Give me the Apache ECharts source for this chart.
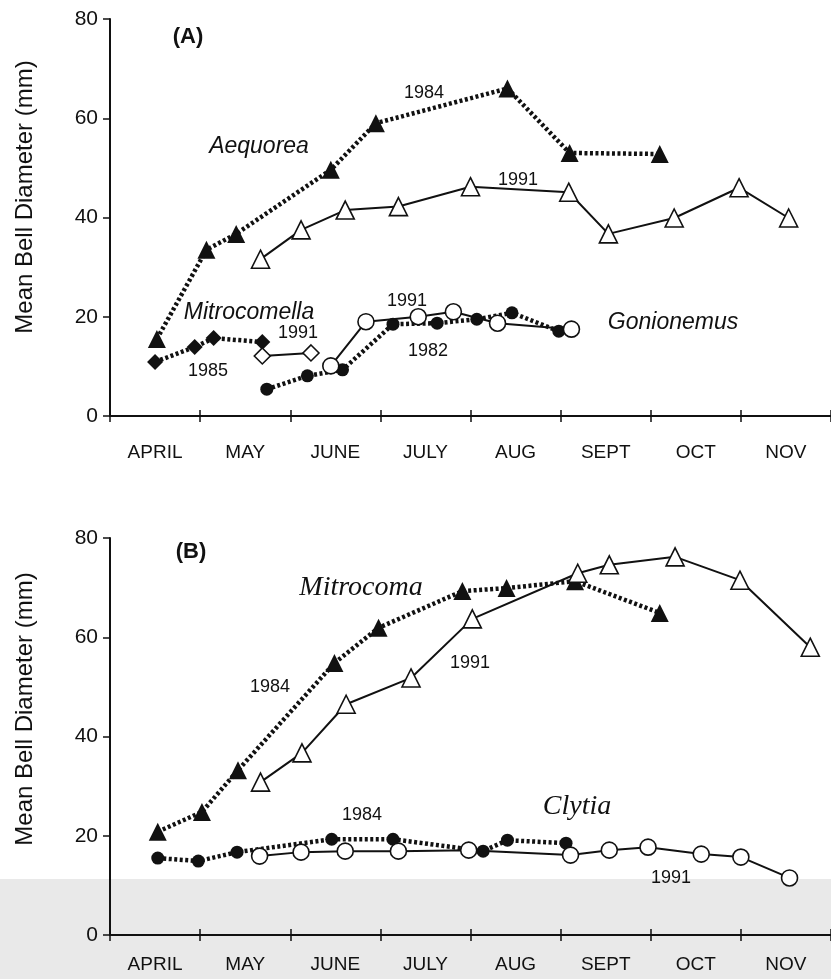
<!DOCTYPE html>
<html>
<head>
<meta charset="utf-8">
<script src="https://cdn.jsdelivr.net/npm/echarts@6/dist/echarts.min.js"></script>
<style>
  html, body { margin: 0; padding: 0; background: #fff; }
  #main { width: 831px; height: 979px; }
</style>
</head>
<body>
<div id="main"></div>
<script>
// months on the x axis (each label sits in the middle of its month)
var months = ['APRIL', 'MAY', 'JUNE', 'JULY', 'AUG', 'SEPT', 'OCT', 'NOV'];
var yTicks = [0, 20, 40, 60, 80];

// x values are in months counted from 1 April
// (A) Aequorea
var aequorea1984X = [0.52, 1.07, 1.40, 2.45, 2.95, 4.41, 5.10, 6.10];
var aequorea1984Y = [15.5, 33.5, 36.7, 49.6, 59.0, 66.0, 53.0, 52.8];
var aequorea1991X = [1.67, 2.12, 2.61, 3.20, 4.00, 5.09, 5.53, 6.26, 6.98, 7.53];
var aequorea1991Y = [31.6, 37.5, 41.5, 42.2, 46.2, 45.1, 36.7, 39.9, 46.0, 39.9];
// (A) Mitrocomella
var mitrocomella1985X = [0.50, 0.94, 1.15, 1.69];
var mitrocomella1985Y = [10.9, 13.9, 15.7, 14.9];
var mitrocomella1991X = [1.69, 2.23];
var mitrocomella1991Y = [12.1, 12.7];
// (A) Gonionemus
var gonionemus1982X = [1.74, 2.19, 2.58, 3.14, 3.63, 4.07, 4.46, 4.98];
var gonionemus1982Y = [5.4, 8.1, 9.3, 18.5, 18.7, 19.5, 20.8, 17.1];
var gonionemus1991X = [2.45, 2.84, 3.42, 3.81, 4.30, 5.12];
var gonionemus1991Y = [10.1, 19.0, 20.0, 21.0, 18.7, 17.5];

// (B) Mitrocoma
var mitrocoma1984X = [0.53, 1.02, 1.42, 2.49, 2.98, 3.91, 4.40, 5.16, 6.10];
var mitrocoma1984Y = [20.8, 24.8, 33.2, 54.8, 61.9, 69.3, 69.9, 71.3, 64.9];
var mitrocoma1991X = [1.67, 2.13, 2.62, 3.34, 4.02, 5.19, 5.54, 6.27, 6.99, 7.77];
var mitrocoma1991Y = [30.8, 36.7, 46.5, 51.8, 63.7, 72.9, 74.6, 76.2, 71.5, 58.0];
// (B) Clytia
var clytia1984X = [0.53, 0.98, 1.41, 2.46, 3.14, 4.14, 4.41, 5.06];
var clytia1984Y = [15.5, 14.9, 16.7, 19.3, 19.3, 16.9, 19.1, 18.5];
var clytia1991X = [1.66, 2.12, 2.61, 3.20, 3.98, 5.11, 5.54, 5.97, 6.56, 7.00, 7.54];
var clytia1991Y = [15.9, 16.7, 16.9, 16.9, 17.1, 16.1, 17.1, 17.7, 16.3, 15.7, 11.5];

var SANS = 'Liberation Sans, Arial, sans-serif';
var SERIF = 'Liberation Serif, Times New Roman, serif';

function pairs(xs, ys) {
	return xs.map(function(x, i) { return [x, ys[i]]; });
}

// dotted = filled markers, solid = open markers
function line(xs, ys, symbol, filled, panel) {
	var big = symbol === 'triangle' ? 18 : (symbol === 'diamond' ? 16 : (filled ? 13 : 16));
	return {
		type : 'line',
		xAxisIndex : panel * 2,
		yAxisIndex : panel,
		data : pairs(xs, ys),
		symbol : symbol,
		symbolSize : big,
		showAllSymbol : true,
		z : filled ? 3 : 4,
		lineStyle : filled
			? { color : '#111', width : 4.5, type : [3, 2.5] }
			: { color : '#111', width : 2 },
		itemStyle : filled
			? { color : '#111', borderWidth : 0 }
			: { color : '#fff', borderColor : '#111', borderWidth : 1.6 },
		emphasis : { disabled : true },
		animation : false
	};
}

function xAxes(panel, labelMargin) {
	return [ {
		type : 'value',
		gridIndex : panel,
		position : 'bottom',
		min : 0,
		max : 8,
		interval : 1,
		axisLine : { show : false },
		axisTick : { show : true, inside : true, length : 6, lineStyle : { color : '#111', width : 1.5 } },
		axisLabel : { show : false },
		splitLine : { show : false }
	}, {
		type : 'category',
		gridIndex : panel,
		position : 'bottom',
		data : months,
		boundaryGap : true,
		axisLine : { lineStyle : { color : '#111', width : 2 } },
		axisTick : { show : true, length : 6, lineStyle : { color : '#111', width : 1.5 } },
		axisLabel : { color : '#111', fontSize : 19, fontFamily : SANS, margin : labelMargin },
		splitLine : { show : false }
	} ];
}

function yAxis(panel) {
	return {
		type : 'value',
		gridIndex : panel,
		min : yTicks[0],
		max : yTicks[yTicks.length - 1],
		interval : 20,
		axisLine : { show : true, lineStyle : { color : '#111', width : 2 } },
		axisTick : { show : true, length : 7, lineStyle : { color : '#111', width : 1.5 } },
		axisLabel : { color : '#111', fontSize : 21, fontFamily : SANS, margin : 12 },
		splitLine : { show : false }
	};
}

function txt(x, y, text, size, opts) {
	opts = opts || {};
	return {
		type : 'text',
		x : x,
		y : y,
		rotation : opts.rotation || 0,
		z : 10,
		style : {
			text : text,
			fill : '#111',
			fontSize : size,
			fontFamily : opts.family || SANS,
			fontStyle : opts.italic ? 'italic' : 'normal',
			fontWeight : opts.bold ? 'bold' : 'normal',
			textAlign : 'center',
			textVerticalAlign : 'middle'
		}
	};
}

var myChart = echarts.init(document.getElementById('main'), null, { renderer : 'canvas' });

var option = {
	backgroundColor : '#fff',
	animation : false,
	grid : [
		{ left : 110, right : -5, top : 19, height : 397 },
		{ left : 110, right : -5, top : 538, height : 397 }
	],
	xAxis : xAxes(0, 27).concat(xAxes(1, 20)),
	yAxis : [ yAxis(0), yAxis(1) ],
	series : [
		line(aequorea1984X, aequorea1984Y, 'triangle', true, 0),
		line(aequorea1991X, aequorea1991Y, 'triangle', false, 0),
		line(mitrocomella1985X, mitrocomella1985Y, 'diamond', true, 0),
		line(mitrocomella1991X, mitrocomella1991Y, 'diamond', false, 0),
		line(gonionemus1982X, gonionemus1982Y, 'circle', true, 0),
		line(gonionemus1991X, gonionemus1991Y, 'circle', false, 0),
		line(mitrocoma1984X, mitrocoma1984Y, 'triangle', true, 1),
		line(mitrocoma1991X, mitrocoma1991Y, 'triangle', false, 1),
		line(clytia1984X, clytia1984Y, 'circle', true, 1),
		line(clytia1991X, clytia1991Y, 'circle', false, 1)
	],
	graphic : [
		// grey band from the scanned page underneath panel B
		{ type : 'rect', z : -10, shape : { x : 0, y : 879, width : 831, height : 100 }, style : { fill : '#e9e9e9' } },
		txt(25, 197, 'Mean Bell Diameter (mm)', 24, { rotation : Math.PI / 2 }),
		txt(25, 709, 'Mean Bell Diameter (mm)', 24, { rotation : Math.PI / 2 }),
		// panel A notes
		txt(188, 37, '(A)', 22, { bold : true }),
		txt(424, 93, '1984', 18),
		txt(259, 147, 'Aequorea', 23, { italic : true }),
		txt(518, 180, '1991', 18),
		txt(249, 313, 'Mitrocomella', 23, { italic : true }),
		txt(298, 333, '1991', 18),
		txt(208, 371, '1985', 18),
		txt(407, 301, '1991', 18),
		txt(428, 351, '1982', 18),
		txt(673, 323, 'Gonionemus', 23, { italic : true }),
		// panel B notes
		txt(191, 552, '(B)', 22, { bold : true }),
		txt(361, 588, 'Mitrocoma', 28, { italic : true, family : SERIF }),
		txt(270, 687, '1984', 18),
		txt(470, 663, '1991', 18),
		txt(362, 815, '1984', 18),
		txt(577, 807, 'Clytia', 28, { italic : true, family : SERIF }),
		txt(671, 878, '1991', 18)
	]
};

myChart.setOption(option);
</script>
</body>
</html>
